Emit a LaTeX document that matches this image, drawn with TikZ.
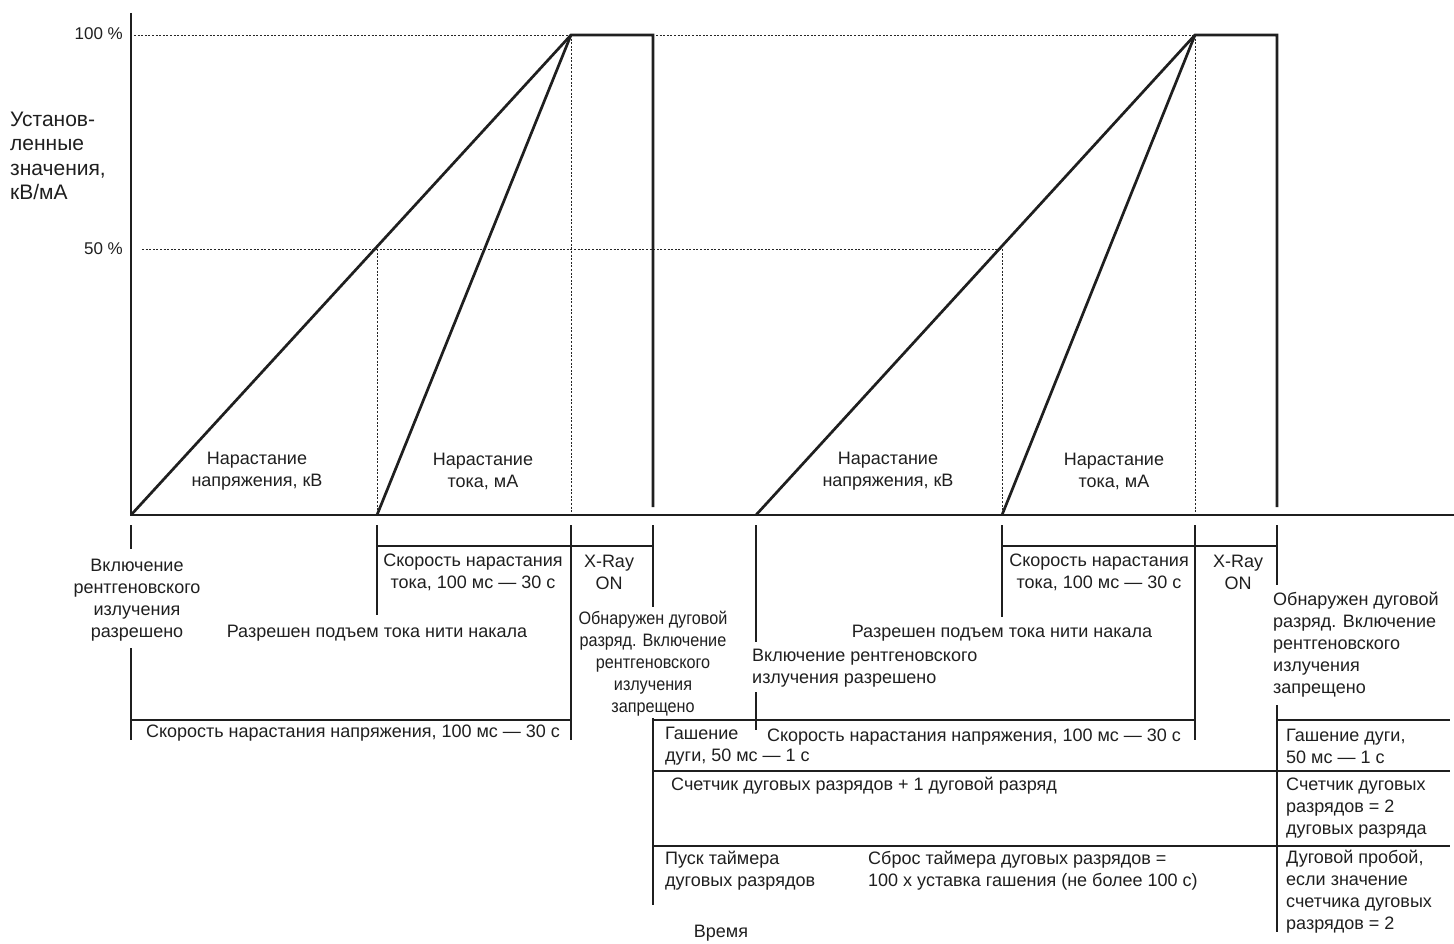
\documentclass[tikz,border=0pt]{standalone}
\usepackage{fontspec}
\setmainfont{Liberation Sans}
\newfontfamily\condfont[FakeStretch=0.9]{Liberation Sans}
\begin{document}
\begin{tikzpicture}[x=1pt,y=-1pt,
  thickline/.style={line width=2.7pt, line join=miter, color=black!88},
  thinline/.style={line width=1.4pt, color=black!88},
  dotline/.style={line width=0.9pt, dash pattern=on 2pt off 1.6pt, color=black!85},
  lbl/.style={inner sep=0pt, font=\fontsize{18}{22}\selectfont, text=black!88},
  lblc/.style={lbl, align=center},
  lbll/.style={lbl, align=left, anchor=west}]
\useasboundingbox (0,0) rectangle (1454,944);
% key coordinates
\coordinate (O) at (131,515);
\coordinate (P1) at (571,35);
\coordinate (F1) at (653,35);
\coordinate (A1) at (377,515);
\coordinate (B2) at (756,515);
\coordinate (A2) at (1002,515);
\coordinate (P2) at (1195,35);
\coordinate (F2) at (1277,35);
% dotted guides
\draw[dotline] (134,35) -- (P2);
\draw[dotline] (142,249) -- (1002,249);
\draw[dotline] (377,249) -- (A1);
\draw[dotline] (P1) -- (571,515);
\draw[dotline] (1002,249) -- (A2);
\draw[dotline] (P2) -- (1195,515);
% axes
\draw[thickline] (131,13) -- (O) -- (1454,515);
% ramps
\draw[thickline] (O) -- (P1) -- (F1) -- (653,507);
\draw[thickline] (A1) -- (P1);
\draw[thickline] (B2) -- (P2) -- (F2) -- (1277,507);
\draw[thickline] (A2) -- (P2);
% axis labels
\node[lbl, anchor=east, font=\fontsize{17}{20}\selectfont] (l100) at (123,34) {100 \%};
\node[lbl, anchor=east, font=\fontsize{17}{20}\selectfont] (l50) at (123,249) {50 \%};
\node[lbll, font=\fontsize{21}{24.5}\selectfont] (ylab) at (10,156) {Установ-\\ленные\\значения,\\кВ/мА};
\node[lblc] (kv1) at (257,471) {Нарастание\\напряжения, кВ};
\node[lblc] (ma1) at (483,471) {Нарастание\\тока, мА};
\node[lblc] (kv2) at (888,471) {Нарастание\\напряжения, кВ};
\node[lblc] (ma2) at (1114,471) {Нарастание\\тока, мА};
% timing lines below axis
\draw[thinline] (131,525) -- (131,549);
\draw[thinline] (131,648) -- (131,740);
\draw[thinline] (131,720) -- (571,720);
\draw[thinline] (377,525) -- (377,615);
\draw[thinline] (377,546) -- (653,546);
\draw[thinline] (571,525) -- (571,740);
\draw[thinline] (653,525) -- (653,607);
\draw[thinline] (653,718) -- (653,905);
\draw[thinline] (653,720) -- (1195,720);
\draw[thinline] (756,525) -- (756,642);
\draw[thinline] (756,692) -- (756,730);
\draw[thinline] (1002,525) -- (1002,617);
\draw[thinline] (1002,546) -- (1277,546);
\draw[thinline] (1195,525) -- (1195,740);
\draw[thinline] (1277,525) -- (1277,585);
\draw[thinline] (1277,705) -- (1277,932);
\draw[thinline] (1277,720) -- (1450,720);
\draw[thinline] (653,771) -- (1450,771);
\draw[thinline] (653,846) -- (1450,846);
% texts below axis
\node[lblc] (en1) at (137,600) {Включение\\рентгеновского\\излучения\\разрешено};
\node[lblc] (rt1) at (473,572) {Скорость нарастания\\тока, 100 мс — 30 с};
\node[lblc] (xr1) at (609,572) {X-Ray\\ON};
\node[lbl] (fil1) at (377,633) {Разрешен подъем тока нити накала};
\node[lblc, font=\condfont\fontsize{18}{22}\selectfont] (arc1) at (653,664) {Обнаружен дуговой\\разряд. Включение\\рентгеновского\\излучения\\запрещено};
\node[lbl] (rv1) at (353,733) {Скорость нарастания напряжения, 100 мс — 30 с};
\node[lblc] (rt2) at (1099,572) {Скорость нарастания\\тока, 100 мс — 30 с};
\node[lblc] (xr2) at (1238,572) {X-Ray\\ON};
\node[lbl] (fil2) at (1002,633) {Разрешен подъем тока нити накала};
\node[lbll] (en2) at (752,668) {Включение рентгеновского\\излучения разрешено};
\node[lbl] (rv2) at (974,737) {Скорость нарастания напряжения, 100 мс — 30 с};
\node[lbll] (q1) at (665,746) {Гашение\\дуги, 50 мс — 1 с};
\node[lbll] (cnt1) at (671,786) {Счетчик дуговых разрядов + 1 дуговой разряд};
\node[lbll] (tm1) at (665,871) {Пуск таймера\\дуговых разрядов};
\node[lbll] (tm2) at (868,871) {Сброс таймера дуговых разрядов =\\100 х уставка гашения (не более 100 с)};
\node[lbl] (time) at (721,933) {Время};
\node[lbll] (arc2) at (1273,645) {Обнаружен дуговой\\разряд. Включение\\рентгеновского\\излучения\\запрещено};
\node[lbll] (q2) at (1286,746) {Гашение дуги,\\50 мс — 1 с};
\node[lbll] (cnt2) at (1286,808) {Счетчик дуговых\\разрядов = 2\\дуговых разряда};
\node[lbll] (brk) at (1286,892) {Дуговой пробой,\\если значение\\счетчика дуговых\\разрядов = 2};
\end{tikzpicture}
\end{document}
